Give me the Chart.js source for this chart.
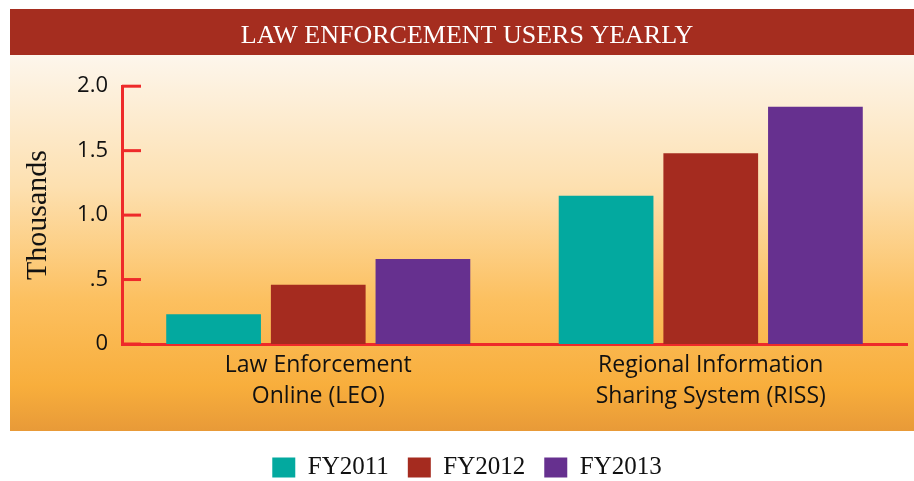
<!DOCTYPE html>
<html>
<head>
<meta charset="utf-8">
<script src="https://cdn.jsdelivr.net/npm/chart.js@4"></script>
<style>
  html, body { margin: 0; padding: 0; background: #fff; overflow: hidden; }
  #wrap { width: 914px; height: 481px; position: relative; }
</style>
</head>
<body>
<div id="wrap"><canvas id="usersChart" width="914" height="481"></canvas></div>
<script>
const categories = [["Law Enforcement", "Online (LEO)"], ["Regional Information", "Sharing System (RISS)"]];
const seriesNames = ["FY2011", "FY2012", "FY2013"];
const fy2011 = [0.23, 1.15];
const fy2012 = [0.46, 1.48];
const fy2013 = [0.66, 1.84];
const yTickLabels = ["0", ".5", "1.0", "1.5", "2.0"];

const colors = ["#03a99f", "#a52b1f", "#66308f"];
const axisRed = "#ee2a2a";

// banner + gradient panel behind the chart
const backdrop = {
    id: "backdrop",
    beforeDraw(chart) {
        const ctx = chart.ctx;
        ctx.save();
        ctx.fillStyle = "#fff";
        ctx.fillRect(0, 0, chart.width, chart.height);
        ctx.fillStyle = "#a52d1f";
        ctx.fillRect(10, 9, chart.width - 10, 46);
        const g = ctx.createLinearGradient(0, 55, 0, 431);
        g.addColorStop(0, "#fdf6ec");
        g.addColorStop(0.35, "#fde0b0");
        g.addColorStop(0.65, "#fcc060");
        g.addColorStop(0.88, "#f8ae3c");
        g.addColorStop(1, "#e89a38");
        ctx.fillStyle = g;
        ctx.fillRect(10, 55, chart.width - 10, 376);
        ctx.restore();
    },
    afterDatasetsDraw(chart) {
        // short tick marks drawn inside the plot, like the original
        const ctx = chart.ctx;
        const y = chart.scales.y;
        ctx.save();
        ctx.strokeStyle = axisRed;
        ctx.lineWidth = 3;
        y.ticks.forEach(t => {
            const py = y.getPixelForValue(t.value);
            ctx.beginPath();
            ctx.moveTo(y.right, py);
            ctx.lineTo(y.right + 19, py);
            ctx.stroke();
        });
        ctx.restore();
    }
};

const datasets = [fy2011, fy2012, fy2013].map((vals, i) => ({
    label: seriesNames[i],
    data: vals,
    backgroundColor: colors[i],
    categoryPercentage: 0.8,
    barPercentage: 0.905
}));

new Chart(document.getElementById("usersChart"), {
    type: "bar",
    data: { labels: categories, datasets: datasets },
    plugins: [backdrop],
    options: {
        responsive: false,
        animation: false,
        layout: { padding: { left: 27, right: 7, top: 0, bottom: -9 } },
        plugins: {
            title: {
                display: true,
                text: "LAW ENFORCEMENT USERS YEARLY",
                color: "#fff",
                font: { family: "'Liberation Serif', serif", size: 26, weight: "normal" },
                padding: { top: 21, bottom: 34 }
            },
            legend: {
                position: "bottom",
                labels: {
                    color: "#111",
                    font: { family: "'Liberation Serif', serif", size: 25 },
                    boxWidth: 23,
                    boxHeight: 20,
                    padding: 19
                }
            },
            tooltip: { enabled: false }
        },
        scales: {
            x: {
                grid: { display: false, drawTicks: false },
                border: { color: axisRed, width: 3 },
                ticks: {
                    color: "#111",
                    font: { family: "'Open Sans', sans-serif", size: 23, lineHeight: 1.35 },
                    padding: 6,
                    maxRotation: 0
                },
                afterFit(scale) { scale.height = 92; }
            },
            y: {
                min: 0,
                max: 2,
                grid: { display: false, drawTicks: false },
                border: { color: axisRed, width: 3 },
                ticks: {
                    stepSize: 0.5,
                    color: "#111",
                    font: { family: "'Open Sans', sans-serif", size: 22 },
                    padding: 14,
                    callback: (v, i) => yTickLabels[i]
                },
                title: {
                    display: true,
                    text: "Thousands",
                    color: "#111",
                    font: { family: "'Liberation Serif', serif", size: 30 },
                    padding: { top: -7, bottom: 0 }
                },
                afterFit(scale) { scale.width = 95; }
            }
        }
    }
});
</script>
</body>
</html>
